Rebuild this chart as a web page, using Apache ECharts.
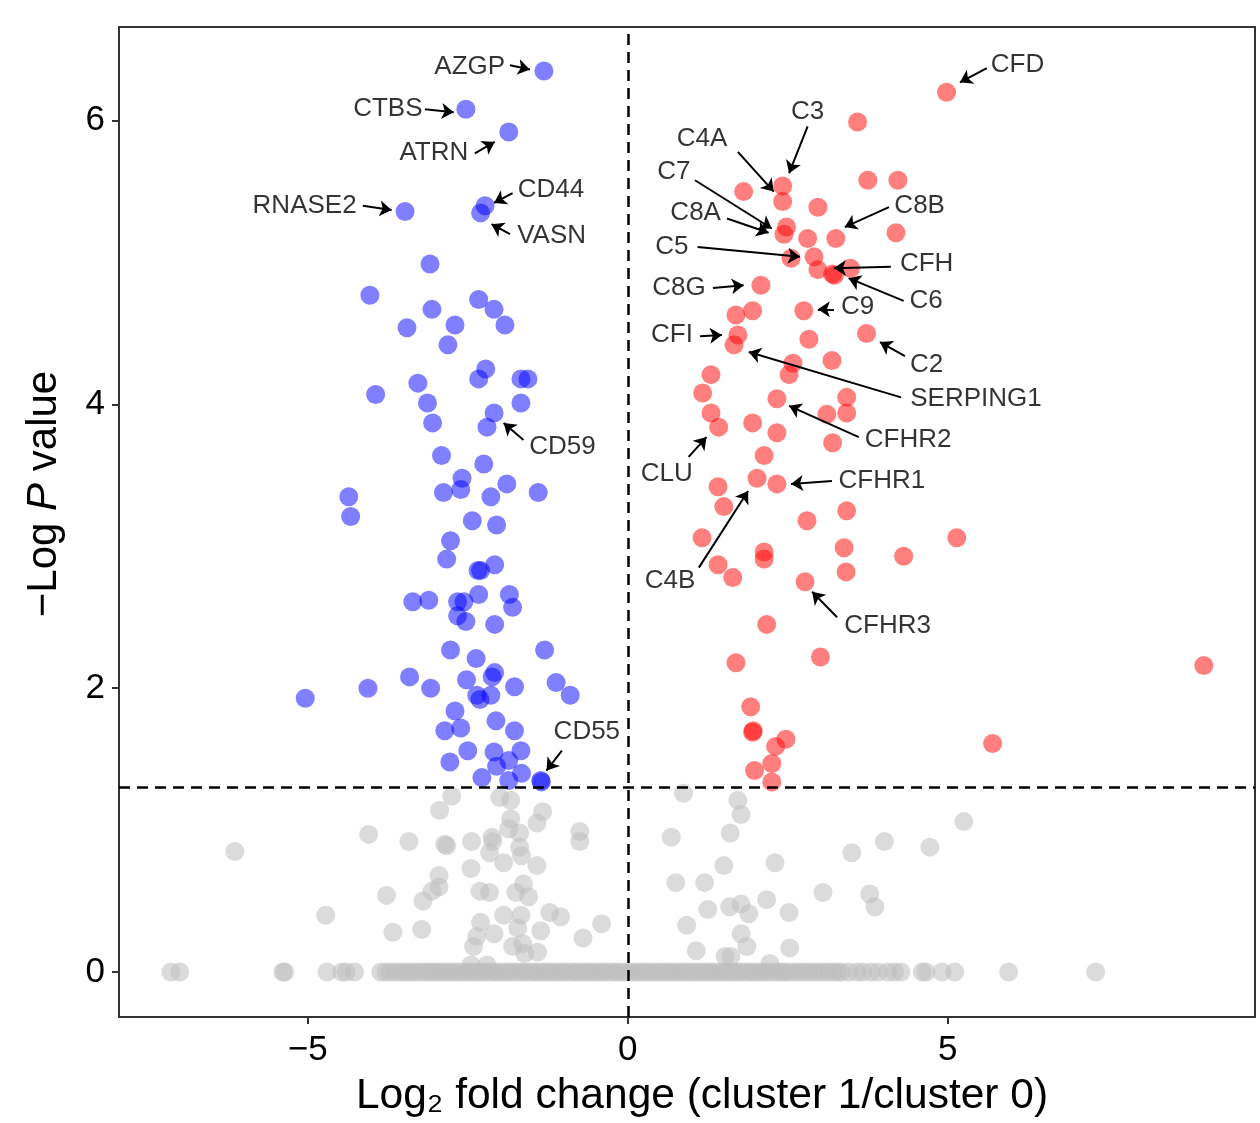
<!DOCTYPE html>
<html>
<head>
<meta charset="utf-8">
<script src="https://cdn.jsdelivr.net/npm/echarts@6/dist/echarts.min.js"></script>
<style>
html,body{margin:0;padding:0;background:#fff;}
#chart{width:1260px;height:1123px;}
</style>
</head>
<body>
<div id="chart"></div>
<script>
// ---- Data (log2 fold change, -log10 P) ----
const downGenes = [
  [-1.31,6.35],[-2.53,6.08],[-1.86,5.92],[-2.23,5.40],[-2.30,5.35],[-3.48,5.36],[-3.09,4.99],[-4.03,4.77],
  [-3.06,4.67],[-3.45,4.54],[-2.70,4.56],[-2.33,4.74],[-2.09,4.67],[-1.92,4.56],[-2.81,4.42],[-2.22,4.25],
  [-2.33,4.18],[-1.67,4.18],[-1.56,4.18],[-3.28,4.15],[-3.94,4.07],[-3.13,4.01],[-1.67,4.01],[-2.09,3.94],
  [-2.20,3.84],[-3.05,3.87],[-2.91,3.64],[-2.25,3.58],[-2.59,3.48],[-2.61,3.40],[-1.89,3.44],[-2.88,3.38],
  [-1.40,3.38],[-4.36,3.35],[-4.33,3.21],[-2.14,3.35],[-2.43,3.18],[-2.05,3.15],[-2.77,3.04],[-2.83,2.91],
  [-2.30,2.83],[-2.34,2.83],[-2.08,2.87],[-3.36,2.61],[-3.11,2.62],[-2.66,2.61],[-2.56,2.61],[-2.33,2.66],
  [-1.85,2.66],[-1.80,2.57],[-2.66,2.51],[-2.53,2.47],[-2.08,2.45],[-2.77,2.27],[-2.37,2.21],[-1.30,2.27],
  [-3.41,2.08],[-2.08,2.11],[-2.12,2.08],[-2.52,2.06],[-1.12,2.04],[-4.06,2.00],[-3.08,2.00],[-1.77,2.01],
  [-0.90,1.95],[-5.04,1.93],[-2.36,1.95],[-2.14,1.95],[-2.31,1.92],[-2.70,1.84],[-2.06,1.77],[-2.61,1.72],
  [-2.86,1.70],[-1.77,1.70],[-2.09,1.55],[-2.50,1.56],[-1.67,1.56],[-2.78,1.48],[-2.05,1.45],[-1.86,1.49],
  [-2.28,1.37],[-1.86,1.35],[-1.66,1.40],[-1.36,1.35],[-1.35,1.34]
];
const upGenes = [
  [4.98,6.20],[3.59,5.99],[2.42,5.54],[1.81,5.50],[3.75,5.58],[4.22,5.58],[2.42,5.43],[2.97,5.39],
  [4.19,5.21],[2.48,5.25],[2.44,5.20],[2.81,5.17],[3.25,5.17],[2.55,5.03],[2.91,5.04],[2.97,4.95],
  [3.20,4.92],[3.23,4.91],[3.48,4.96],[2.08,4.84],[1.95,4.66],[1.69,4.63],[2.75,4.66],[1.72,4.49],
  [3.73,4.50],[2.83,4.46],[1.66,4.42],[3.19,4.31],[2.58,4.29],[2.52,4.21],[1.30,4.21],[1.17,4.08],
  [2.33,4.04],[3.42,4.05],[1.30,3.94],[3.11,3.93],[3.42,3.94],[1.42,3.84],[1.95,3.87],[2.33,3.80],
  [3.20,3.73],[2.13,3.64],[2.02,3.48],[2.33,3.44],[1.41,3.42],[1.50,3.28],[3.42,3.25],[2.80,3.18],
  [5.14,3.06],[1.16,3.06],[3.38,2.99],[2.13,2.96],[2.13,2.91],[4.31,2.93],[1.41,2.87],[3.41,2.82],
  [1.64,2.78],[2.77,2.75],[2.17,2.45],[1.69,2.18],[3.01,2.22],[9.00,2.16],[1.92,1.87],[1.95,1.69],
  [1.96,1.70],[2.47,1.64],[2.31,1.59],[5.70,1.61],[1.98,1.42],[2.25,1.47],[2.25,1.34]
];
const nsGenes = [
  [-2.75,1.24],[-2.00,1.23],[-1.83,1.21],[-2.94,1.14],[-1.33,1.13],[-1.83,1.08],[-1.42,1.05],[-1.86,1.01],
  [-1.69,0.98],[-4.05,0.97],[-0.75,0.99],[-0.75,0.92],[-2.12,0.95],[-2.11,0.92],[-3.42,0.92],[-2.86,0.90],
  [-2.83,0.89],[-2.44,0.92],[-1.69,0.88],[-2.16,0.84],[-1.66,0.82],[-6.14,0.85],[-1.94,0.77],[-1.42,0.75],
  [-2.45,0.73],[-2.95,0.68],[-2.95,0.60],[-3.06,0.57],[-2.31,0.57],[-2.16,0.56],[-1.75,0.56],[-1.63,0.62],
  [-1.55,0.53],[-3.77,0.54],[-3.20,0.50],[-4.72,0.40],[-1.94,0.40],[-1.67,0.40],[-1.22,0.42],[-1.05,0.39],
  [-0.41,0.34],[-2.30,0.35],[-1.72,0.31],[-1.36,0.29],[-3.67,0.28],[-3.22,0.30],[-2.09,0.27],[-2.36,0.25],
  [-0.70,0.24],[-2.41,0.18],[-1.80,0.18],[-1.64,0.20],[-1.41,0.14],[-1.61,0.13],[-2.45,0.05],[-2.20,0.05],
  [0.87,1.26],[1.72,1.21],[1.77,1.11],[5.25,1.06],[0.68,0.95],[1.60,0.98],[4.01,0.92],[4.72,0.88],
  [3.50,0.84],[1.50,0.75],[2.30,0.77],[0.75,0.63],[1.20,0.63],[3.05,0.56],[3.78,0.55],[3.86,0.46],
  [1.25,0.44],[1.59,0.46],[1.77,0.48],[1.89,0.41],[2.17,0.51],[2.52,0.42],[0.92,0.33],[1.77,0.27],
  [1.86,0.18],[2.53,0.17],[1.07,0.15],[1.52,0.11],[1.61,0.11],[2.22,0.06]
];
// genes with P = 1 (-log10 P = 0): their fold changes
const nsZeroFC = [
  -7.14,-7.00,-5.39,-5.36,-4.70,-4.47,-4.40,-4.27,
  -3.86,-3.78,-3.71,-3.62,-3.55,-3.47,-3.41,-3.33,-3.26,-3.18,-3.12,-3.05,-2.98,-2.92,-2.85,
  -2.78,-2.71,-2.65,-2.57,-2.50,-2.44,-2.36,-2.29,-2.23,-2.15,-2.08,-2.02,-1.94,-1.87,-1.81,-1.73,
  -1.66,-1.60,-1.52,-1.45,-1.39,-1.31,-1.24,-1.18,-1.10,-1.03,-0.97,-0.89,-0.82,-0.76,-0.68,-0.61,
  -0.55,-0.47,-0.40,-0.34,-0.26,-0.19,-0.13,-0.05,0.02,0.08,0.16,0.23,0.29,0.37,0.44,0.50,0.58,
  0.65,0.71,0.79,0.86,0.92,1.00,1.07,1.13,1.21,1.28,1.34,1.42,1.49,1.55,1.63,1.70,1.76,1.84,1.91,
  1.97,2.05,2.12,2.18,2.26,2.33,2.40,2.46,2.53,2.61,2.68,2.76,2.83,2.91,2.98,3.06,3.13,3.21,3.28,
  3.34,3.45,3.58,3.67,3.80,3.91,4.06,4.17,4.27,4.60,4.66,4.91,5.11,5.95,7.31
];

// ---- Annotations ----
const annoNames = ['AZGP','CTBS','ATRN','CD44','VASN','RNASE2','CD59','CD55',
  'CFD','C3','C4A','C7','C8A','C5','C8B','CFH','C6','C8G','C9','CFI','C2','SERPING1','CFHR2','CLU','CFHR1','C4B','CFHR3'];
const annoText = [[-2.47,6.38],[-3.75,6.08],[-3.03,5.77],[-1.20,5.51],[-1.19,5.19],[-5.05,5.40],[-1.02,3.70],[-0.64,1.69],
  [6.09,6.39],[2.81,6.06],[1.16,5.87],[0.72,5.64],[1.06,5.35],[0.69,5.11],[4.56,5.40],[4.67,4.99],[4.66,4.73],[0.80,4.82],
  [3.59,4.69],[0.69,4.49],[4.67,4.28],[5.44,4.04],[4.38,3.75],[0.61,3.51],[3.97,3.46],[0.66,2.76],[4.06,2.44]];
const annoFrom = [[-1.84,6.39],[-3.17,6.08],[-2.39,5.77],[-1.80,5.49],[-1.84,5.20],[-4.14,5.40],[-1.63,3.75],[-1.03,1.56],
  [5.61,6.37],[2.81,5.96],[1.72,5.78],[1.05,5.58],[1.55,5.31],[1.09,5.11],[4.08,5.39],[4.11,4.97],[4.31,4.73],[1.33,4.82],
  [3.22,4.67],[1.13,4.48],[4.33,4.34],[4.27,4.05],[3.61,3.77],[0.95,3.63],[3.19,3.46],[1.11,2.85],[3.27,2.50]];
const annoTo = [[-1.53,6.36],[-2.72,6.06],[-2.08,5.85],[-2.09,5.42],[-2.13,5.27],[-3.69,5.37],[-1.94,3.87],[-1.27,1.42],
  [5.19,6.27],[2.52,5.63],[2.28,5.50],[2.25,5.24],[2.20,5.21],[2.69,5.04],[3.39,5.25],[3.22,4.96],[3.45,4.89],[1.81,4.84],
  [2.97,4.67],[1.47,4.49],[3.94,4.44],[1.89,4.37],[2.52,3.99],[1.23,3.77],[2.55,3.44],[1.88,3.39],[2.88,2.68]];

const xTicks = [-5, 0, 5];
const yTicks = [0, 2, 4, 6];
const pThreshold = 1.301;   // -log10(0.05)
const fcThreshold = 0;

// ---- Chart ----
const FONT = '"Liberation Sans", Arial, Helvetica, sans-serif';
const chart = echarts.init(document.getElementById('chart'), null, {renderer: 'canvas'});
const fmt = v => (v < 0 ? '\u2212' + Math.abs(v) : String(v));
const nsAll = nsGenes.concat(nsZeroFC.map(x => [x, 0]));

const dotSize = 19;
const option = {
  animation: false,
  backgroundColor: '#fff',
  grid: {left: 119, right: 5, top: 27, bottom: 105, show: true, borderColor: '#333', borderWidth: 2, backgroundColor: 'transparent'},
  xAxis: {
    type: 'value', min: -7.95, max: 9.8,
    splitLine: {show: false},
    axisLine: {show: true, onZero: false, lineStyle: {color: '#333', width: 2}},
    axisTick: {show: true, length: 7, lineStyle: {color: '#333', width: 2}, customValues: xTicks},
    axisLabel: {customValues: xTicks, formatter: fmt, fontSize: 35, color: '#000', margin: 16, fontFamily: FONT},
    name: 'Log\u2082 fold change (cluster 1/cluster 0)',
    nameLocation: 'middle', nameGap: 58,
    nameTextStyle: {fontSize: 42.5, color: '#000', fontFamily: FONT, padding: [0, 0, 0, 30]}
  },
  yAxis: {
    type: 'value', min: -0.317, max: 6.66,
    splitLine: {show: false},
    axisLine: {show: true, onZero: false, lineStyle: {color: '#333', width: 2}},
    axisTick: {show: true, length: 7, lineStyle: {color: '#333', width: 2}, customValues: yTicks},
    axisLabel: {customValues: yTicks, formatter: fmt, fontSize: 35, color: '#000', margin: 14, fontFamily: FONT},
    name: '{n|\u2212Log }{i|P}{n| value}',
    nameLocation: 'middle', nameGap: 54, nameRotate: 90,
    nameTextStyle: {
      fontSize: 42, color: '#000', fontFamily: FONT, padding: [0, 0, 0, 56],
      rich: {n: {fontSize: 42, color: '#000', fontFamily: FONT}, i: {fontSize: 42, color: '#000', fontStyle: 'italic', fontFamily: FONT}}
    }
  },
  series: [
    {
      type: 'scatter', name: 'NS', data: nsAll, symbolSize: dotSize,
      itemStyle: {color: '#bebebe', opacity: 0.55}, silent: true, z: 2
    },
    {
      type: 'scatter', name: 'Down', data: downGenes, symbolSize: dotSize,
      itemStyle: {color: '#0000ff', opacity: 0.5}, silent: true, z: 3
    },
    {
      type: 'scatter', name: 'Up', data: upGenes, symbolSize: dotSize,
      itemStyle: {color: '#ff0000', opacity: 0.5}, silent: true, z: 3
    },
    {
      type: 'scatter', name: 'thresholds', data: [], silent: true, z: 4,
      markLine: {
        silent: true, symbol: ['none', 'none'], animation: false,
        label: {show: false},
        lineStyle: {color: '#000', width: 2.5, type: [11, 7]},
        data: [{xAxis: fcThreshold}, {yAxis: pThreshold}]
      }
    },
    {
      type: 'scatter', name: 'labels', silent: true, z: 5,
      symbolSize: 1, itemStyle: {color: 'rgba(0,0,0,0)'},
      data: annoNames.map((n, i) => ({name: n, value: annoText[i]})),
      label: {show: true, position: 'inside', formatter: '{b}', fontSize: 26, color: '#000', fontFamily: FONT},
      markLine: {
        silent: true, animation: false,
        symbol: ['none', 'arrow'], symbolSize: 12,
        label: {show: false},
        lineStyle: {color: '#000', width: 2, type: 'solid'},
        data: annoNames.map((n, i) => [{coord: annoFrom[i]}, {coord: annoTo[i]}])
      }
    }
  ]
};
chart.setOption(option);
</script>
</body>
</html>
